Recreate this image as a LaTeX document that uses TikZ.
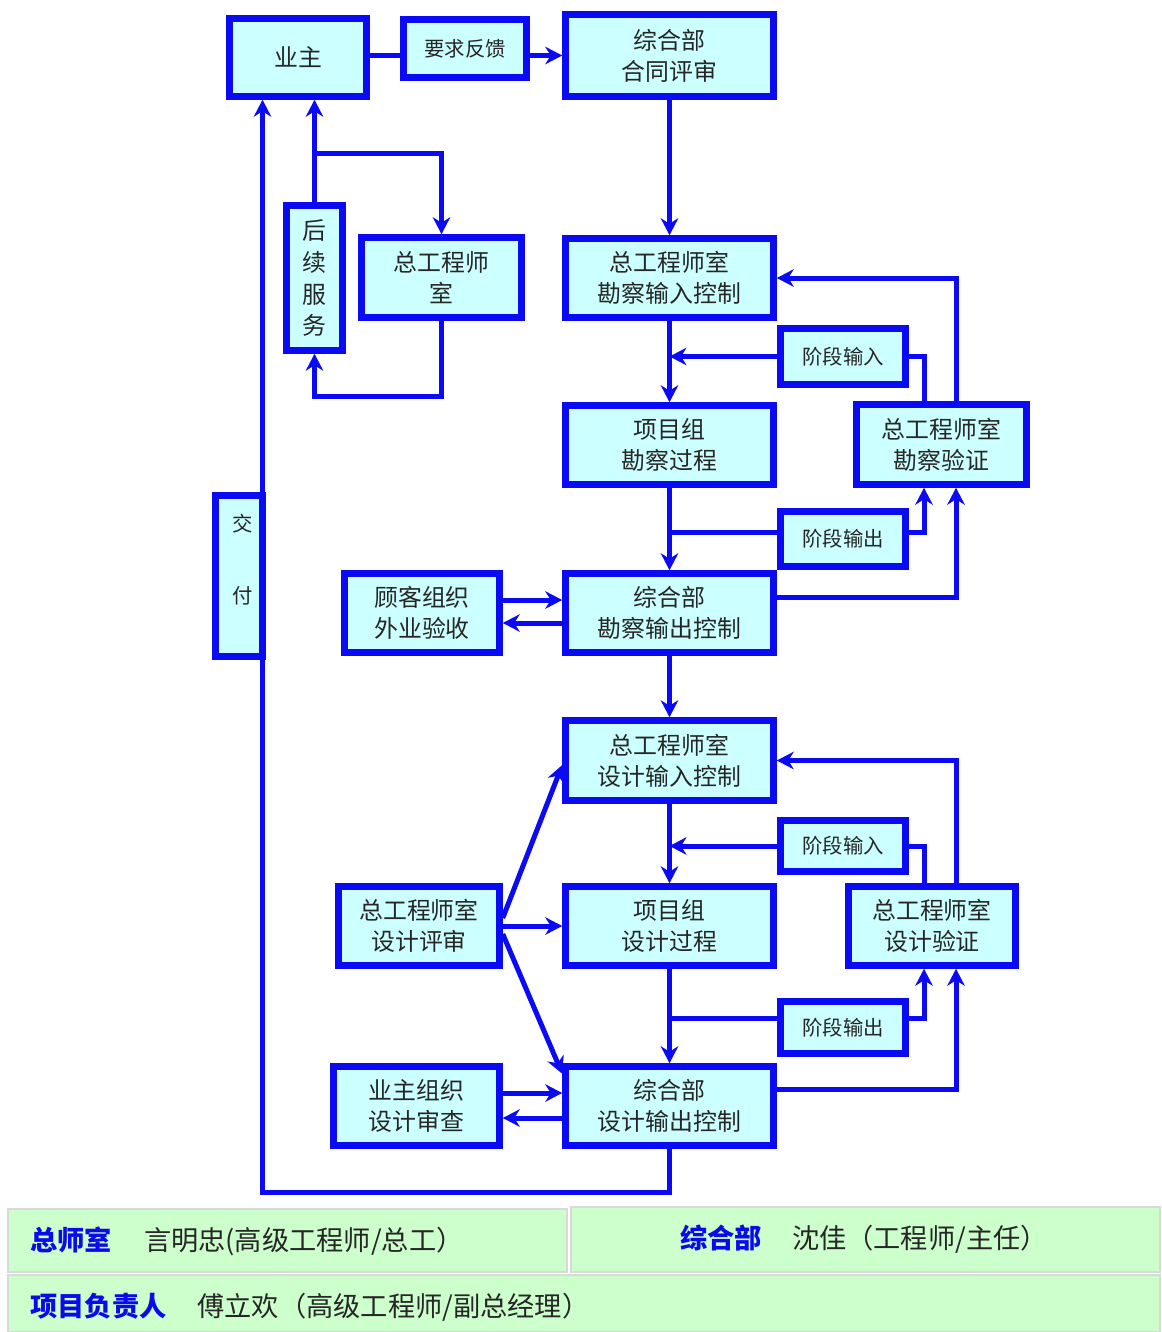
\documentclass[tikz,border=0pt]{standalone}
\usepackage{fontspec}
\setmainfont{Noto Sans CJK SC}
\usetikzlibrary{arrows.meta}
\usetikzlibrary{calc}
\definecolor{lineblue}{RGB}{10,10,245}
\definecolor{boxfill}{RGB}{204,255,255}
\definecolor{panelgreen}{RGB}{204,255,204}
\definecolor{namecol}{RGB}{10,10,235}
\tikzset{>={Stealth[length=3.4mm,width=3.5mm,inset=1.1mm]}}
\tikzset{block/.style = {draw=lineblue, fill=boxfill, line width=0.13cm, inner sep=0pt,
    align=center, text=black!85, font=\fontsize{13.6}{17.6}\selectfont}}
\tikzset{stage/.style = {block, font=\fontsize{11.6}{14}\selectfont}}
\tikzset{dims/.style 2 args = {minimum width=#1*0.02cm, minimum height=#2*0.02cm}}
\tikzset{flow/.style = {draw=lineblue, line width=0.1cm}}
\tikzset{panel/.style = {fill=panelgreen, draw=black!15, line width=0.05cm}}
\tikzset{paneltext/.style = {anchor=west, inner sep=0pt, text=black!85, font=\fontsize{15.5}{18}\selectfont}}

\begin{document}
\begin{tikzpicture}[x=0.02cm, y=-0.02cm]
                \useasboundingbox (0,0) rectangle (1161,1332);

                \node[block, dims={137}{78}] (owner) at (298,57.5) {业主};
                \node[stage, dims={123}{58}] (feedback) at (465,48.5) {要求反馈};
                \node[block, dims={208}{82}] (contract) at (669.5,55.5) {综合部\\合同评审};

                \node[block, dims={56}{145}, font=\fontsize{13.6}{18.2}\selectfont] (service) at (314.5,278) {后\\续\\服\\务};
                \node[block, dims={160}{80}] (chief) at (441.5,277.5) {总工程师\\室};
                \node[block, dims={47}{161}] (deliver) at (239,576) {};
                \node[font=\fontsize{11.6}{14}\selectfont, align=center, text=black!85] (delivertxt) at (243,560) {交\\[27pt]付};

                \node[block, dims={208}{79}] (svyin) at (669.5,278) {总工程师室\\勘察输入控制};
                \node[stage, dims={125}{56}] (stin1) at (843,356.5) {阶段输入};
                \node[block, dims={208}{79}] (svyproc) at (669.5,445) {项目组\\勘察过程};
                \node[block, dims={170}{80}] (svyver) at (941.5,444.5) {总工程师室\\勘察验证};
                \node[stage, dims={125}{55}] (stout1) at (843,539) {阶段输出};
                \node[block, dims={208}{79}] (svyout) at (669.5,613) {综合部\\勘察输出控制};
                \node[block, dims={155}{79}] (field) at (422,613) {顾客组织\\外业验收};

                \node[block, dims={208}{80}] (dsgin) at (669.5,760.5) {总工程师室\\设计输入控制};
                \node[stage, dims={125}{51}] (stin2) at (843,846) {阶段输入};
                \node[block, dims={208}{79}] (dsgproc) at (669.5,926) {项目组\\设计过程};
                \node[block, dims={161}{79}] (dsgrev) at (419,926) {总工程师室\\设计评审};
                \node[block, dims={167}{79}] (dsgver) at (932,926) {总工程师室\\设计验证};
                \node[stage, dims={125}{52}] (stout2) at (843,1027.5) {阶段输出};
                \node[block, dims={208}{79}] (dsgout) at (669.5,1106) {综合部\\设计输出控制};
                \node[block, dims={166}{79}] (ownrev) at (416.5,1106) {业主组织\\设计审查};

                \coordinate (svcfork) at (314.5,153);
                \coordinate (svcloop) at (314.5,396);
                \coordinate (dlvcorner) at (262.5,1192);
                \coordinate (svyvl) at (924,444.5);
                \coordinate (svyvr) at (956,444.5);
                \coordinate (svyfork) at (669.5,532);
                \coordinate (dsgvl) at (924,926);
                \coordinate (dsgvr) at (956,926);
                \coordinate (dsgfork) at (669.5,1018);

                \draw[flow] (owner.east |- contract.west) -- (feedback.west |- contract.west);
                \draw[flow,->] (feedback.east |- contract.west) -- (contract.west);
                \draw[flow,->] (contract.south) -- (svyin.north);

                \draw[flow,->] (service.north) -- (service.north |- owner.south);
                \draw[flow,->] (svcfork) -| (chief.north);
                \draw[flow,->] (chief.south) |- (svcloop) -- (service.south);
                \draw[flow,->] (dsgout.south) |- (dlvcorner) -- (dlvcorner |- owner.south);

                \draw[flow,->] (svyin.south) -- (svyproc.north);
                \draw[flow,->] (stin1.west) -- (stin1.west -| svyin.south);
                \draw[flow] (stin1.east) -| (svyvl |- svyver.north);
                \draw[flow,->] (svyvr |- svyver.north) |- (svyin.east);
                \draw[flow,->] (svyproc.south) -- (svyout.north);
                \draw[flow] (svyfork) -- (svyfork -| stout1.west);
                \draw[flow,->] (svyfork -| stout1.east) -| (svyvl |- svyver.south);
                \draw[flow,->] ([yshift=0.32cm]svyout.east) -| (svyvr |- svyver.south);
                \draw[flow,->] ([yshift=0.26cm]field.east) -- ([yshift=0.26cm]svyout.west);
                \draw[flow,->] ([yshift=-0.2cm]svyout.west) -- ([yshift=-0.2cm]field.east);

                \draw[flow,->] (svyout.south) -- (dsgin.north);
                \draw[flow,->] (dsgin.south) -- (dsgproc.north);
                \draw[flow,->] (stin2.west) -- (stin2.west -| dsgin.south);
                \draw[flow] (stin2.east) -| (dsgvl |- dsgver.north);
                \draw[flow,->] (dsgvr |- dsgver.north) |- (dsgin.east);
                \draw[flow,->] (dsgproc.south) -- (dsgout.north);
                \draw[flow] (dsgfork) -- (dsgfork -| stout2.west);
                \draw[flow,->] (dsgfork -| stout2.east) -| (dsgvl |- dsgver.south);
                \draw[flow,->] ([yshift=0.34cm]dsgout.east) -| (dsgvr |- dsgver.south);
                \draw[flow,->] ([yshift=0.26cm]ownrev.east) -- ([yshift=0.26cm]dsgout.west);
                \draw[flow,->] ([yshift=-0.24cm]dsgout.west) -- ([yshift=-0.24cm]ownrev.east);

                \draw[flow,->] ([yshift=0.16cm]dsgrev.east) -- ([yshift=-0.09cm]dsgin.west);
                \draw[flow,->] (dsgrev.east) -- (dsgproc.west);
                \draw[flow,->] ([yshift=-0.16cm]dsgrev.east) -- ([yshift=-0.21cm]dsgout.north west);

                \path[panel] (8,1209) rectangle (567,1272);
                \path[panel] (571,1207) rectangle (1160,1272);
                \path[panel] (8,1275) rectangle (1160,1332);
                \node[paneltext] (chiefname) at (30,1241) {{\color{namecol}\bfseries 总师室}\hspace{0.64cm}言明忠(高级工程师/总工）};
                \node[paneltext] (deptname) at (680,1239) {{\color{namecol}\bfseries 综合部}\hspace{0.6cm}沈佳（工程师/主任）};
                \node[paneltext] (leadname) at (30,1307) {{\color{namecol}\bfseries 项目负责人}\hspace{0.62cm}傅立欢（高级工程师/副总经理）};
            \end{tikzpicture}
\end{document}
